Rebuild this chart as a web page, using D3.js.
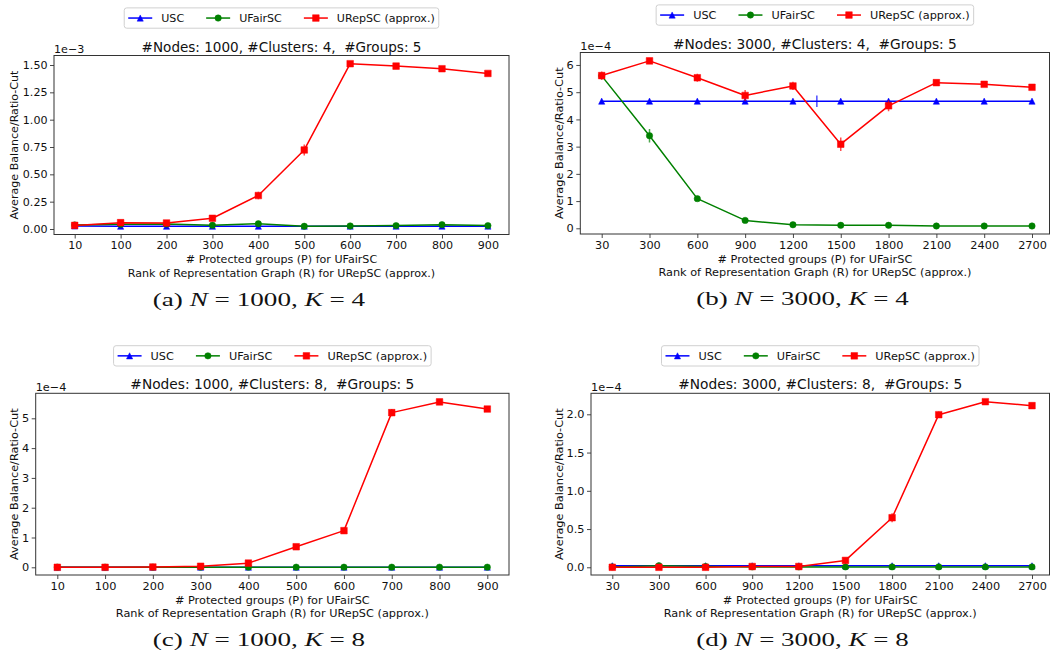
<!DOCTYPE html>
<html><head><meta charset="utf-8">
<script src="https://cdn.jsdelivr.net/npm/d3@7"></script>
<style>
body{margin:0;background:#fff}
svg{display:block}
text{font-family:"DejaVu Sans",sans-serif;fill:#111}
</style>
</head><body>
<svg id="chart" width="1057" height="656"></svg>
<script>
// ---------------- data ----------------
const seriesNames = ["USC", "UFairSC", "URepSC (approx.)"];
const seriesColors = ["#0000ff", "#008000", "#ff0000"];
const seriesMarkers = ["triangle", "circle", "square"];

const xTicks1000 = ["10","100","200","300","400","500","600","700","800","900"];
const xTicks3000 = ["30","300","600","900","1200","1500","1800","2100","2400","2700"];

const yTicksA = [0, 0.25, 0.5, 0.75, 1.0, 1.25, 1.5];
const yTicksB = [0, 1, 2, 3, 4, 5, 6];
const yTicksC = [0, 1, 2, 3, 4, 5];
const yTicksD = [0, 0.5, 1.0, 1.5, 2.0];

// (a) N=1000, K=4  (units 1e-3)
const uscA      = [0.028,0.025,0.025,0.025,0.025,0.026,0.026,0.026,0.026,0.026];
const uscErrA   = [0.003,0.003,0.003,0.003,0.003,0.003,0.003,0.003,0.003,0.003];
const ufairA    = [0.037,0.043,0.046,0.034,0.048,0.025,0.028,0.031,0.040,0.031];
const ufairErrA = [0.004,0.004,0.004,0.004,0.006,0.004,0.004,0.004,0.004,0.004];
const urepA     = [0.033,0.058,0.055,0.098,0.306,0.723,1.512,1.490,1.466,1.423];
const urepErrA  = [0.005,0.010,0.012,0.008,0.035,0.050,0.012,0.010,0.010,0.010];

// (b) N=3000, K=4  (units 1e-4)
const uscB      = [4.67,4.67,4.67,4.67,4.67,4.67,4.67,4.67,4.67,4.67];
const uscErrB   = [0,0,0,0,0,0,0,0,0,0];
const ufairB    = [5.60,3.40,1.09,0.29,0.13,0.11,0.11,0.085,0.085,0.085];
const ufairErrB = [0.10,0.25,0.08,0.03,0.02,0.02,0.02,0.02,0.02,0.02];
const urepB     = [5.61,6.15,5.53,4.88,5.23,3.09,4.50,5.35,5.29,5.18];
const urepErrB  = [0.15,0.05,0.15,0.20,0.15,0.25,0.20,0.05,0.05,0.05];
const uscStrayBarB = [{pos: 4.5, value: 4.67, err: 0.21}];

// (c) N=1000, K=8  (units 1e-4)
const uscC      = [0.003,0.003,0.003,0.003,0.003,0.003,0.003,0.003,0.003,0.003];
const uscErrC   = [0,0,0,0,0,0,0,0,0,0];
const ufairC    = [0.005,0.005,0.005,0.005,0.005,0.005,0.005,0.005,0.005,0.005];
const ufairErrC = [0,0,0,0,0,0,0,0,0,0];
const urepC     = [0.0,0.0,0.01,0.035,0.14,0.69,1.23,5.19,5.55,5.31];
const urepErrC  = [0,0,0,0.02,0.03,0.03,0.10,0.12,0.03,0.03];

// (d) N=3000, K=8  (units 1e-4)
const uscD      = [0.02,0.02,0.02,0.02,0.02,0.02,0.02,0.02,0.02,0.02];
const uscErrD   = [0,0,0,0,0,0,0,0,0,0];
const ufairD    = [0.005,0.02,0.01,0.005,0.005,0.005,0.005,0.005,0.005,0.005];
const ufairErrD = [0,0.005,0,0,0,0,0,0,0,0];
const urepD     = [0.0,0.0,0.0,0.01,0.01,0.09,0.648,1.995,2.165,2.113];
const urepErrD  = [0,0,0,0,0.01,0.01,0.06,0.04,0.015,0.015];

const titles = [
  "#Nodes: 1000, #Clusters: 4,  #Groups: 5",
  "#Nodes: 3000, #Clusters: 4,  #Groups: 5",
  "#Nodes: 1000, #Clusters: 8,  #Groups: 5",
  "#Nodes: 3000, #Clusters: 8,  #Groups: 5"
];
const captionLetters = ["a", "b", "c", "d"];
const captionN = ["1000", "3000", "1000", "3000"];
const captionK = ["4", "4", "8", "8"];
const offsetTexts = ["1e\u22123", "1e\u22124", "1e\u22124", "1e\u22124"];
const xLabel1 = "# Protected groups (P) for UFairSC";
const xLabel2 = "Rank of Representation Graph (R) for URepSC (approx.)";
const yLabel = "Average Balance/Ratio-Cut";

// ---------------- layout ----------------
const panels = [
  { box:[54,55.5,509,234.5], xr:[74.7,487.9], yd:[-0.0503,1.587], xt:xTicks1000, yt:yTicksA, yfmt:d3.format(".2f"),
    series:[[uscA,uscErrA],[ufairA,ufairErrA],[urepA,urepErrA]], stray:[], capC:259, ylx:14, fs:11.1, tfs:13.55 },
  { box:[580.3,52.5,1049.5,234], xr:[601.7,1032], yd:[-0.209,6.458], xt:xTicks3000, yt:yTicksB, yfmt:d3.format("d"),
    series:[[uscB,uscErrB],[ufairB,ufairErrB],[urepB,urepErrB]], stray:uscStrayBarB, capC:802.5, ylx:558.7, fs:11.3, tfs:13.75 },
  { box:[35.7,393.3,509,575], xr:[57.3,487.3], yd:[-0.258,5.839], xt:xTicks1000, yt:yTicksC, yfmt:d3.format("d"),
    series:[[uscC,uscErrC],[ufairC,ufairErrC],[urepC,urepErrC]], stray:[], capC:259, ylx:14, fs:11.3, tfs:13.75 },
  { box:[591,393.3,1049.5,575], xr:[612.3,1032], yd:[-0.1007,2.2745], xt:xTicks3000, yt:yTicksD, yfmt:d3.format(".1f"),
    series:[[uscD,uscErrD],[ufairD,ufairErrD],[urepD,urepErrD]], stray:[], capC:802.5, ylx:558.7, fs:11.3, tfs:13.75 }
];

const svg = d3.select("#chart");

function markerPath(type) {
  if (type === "triangle") { const h = 3.1; return `M0,${-h}L${h},${h}L${-h},${h}Z`; }
  if (type === "square") { const s = 3.3; return `M${-s},${-s}H${s}V${s}H${-s}Z`; }
  return d3.symbol(d3.symbolCircle, Math.PI * 3.2 * 3.2)();
}

panels.forEach((p, pi) => {
  const [x0, y0, x1, y1] = p.box;
  const g = svg.append("g");
  const x = d3.scaleLinear().domain([0, 9]).range(p.xr);
  const y = d3.scaleLinear().domain(p.yd).range([y1, y0]);

  const clipId = "clip" + pi;
  svg.append("clipPath").attr("id", clipId).append("rect")
    .attr("x", x0).attr("y", y0).attr("width", x1 - x0).attr("height", y1 - y0);

  const xAxis = d3.axisBottom(x).tickValues(d3.range(p.xt.length)).tickFormat(i => p.xt[i])
    .tickSize(4).tickPadding(2.5);
  const gx = g.append("g").attr("transform", `translate(0,${y1})`).call(xAxis);
  const yAxis = d3.axisLeft(y).tickValues(p.yt).tickFormat(p.yfmt).tickSize(4).tickPadding(2.5);
  const gy = g.append("g").attr("transform", `translate(${x0},0)`).call(yAxis);
  [gx, gy].forEach(a => {
    a.select(".domain").remove();
    a.selectAll(".tick line").attr("stroke", "#333").attr("stroke-width", 0.9);
    a.selectAll(".tick text").attr("font-family", "DejaVu Sans").attr("font-size", p.fs).attr("fill", "#111");
  });

  const plot = g.append("g").attr("clip-path", `url(#${clipId})`);
  p.series.forEach(([vals, errs], si) => {
    const color = seriesColors[si];
    const sg = plot.append("g");
    sg.selectAll("line.err").data(vals.map((v, i) => ({ i, v, e: errs[i] })).filter(d => d.e > 0))
      .join("line").attr("class", "err")
      .attr("x1", d => x(d.i)).attr("x2", d => x(d.i))
      .attr("y1", d => y(d.v - d.e)).attr("y2", d => y(d.v + d.e))
      .attr("stroke", color).attr("stroke-width", 1.5).attr("stroke-opacity", 0.7);
    const line = d3.line().x((d, i) => x(i)).y(d => y(d));
    sg.append("path").datum(vals).attr("d", line)
      .attr("fill", "none").attr("stroke", color).attr("stroke-width", 1.5).attr("stroke-linejoin", "round");
    sg.selectAll("path.mk").data(vals).join("path").attr("class", "mk")
      .attr("d", markerPath(seriesMarkers[si]))
      .attr("transform", (d, i) => `translate(${x(i)},${y(d)})`)
      .attr("fill", color).attr("stroke", color).attr("stroke-width", 0.5);
  });
  plot.selectAll("line.stray").data(p.stray).join("line").attr("class", "stray")
    .attr("x1", d => x(d.pos)).attr("x2", d => x(d.pos))
    .attr("y1", d => y(d.value - d.err)).attr("y2", d => y(d.value + d.err))
    .attr("stroke", seriesColors[0]).attr("stroke-width", 1.5).attr("stroke-opacity", 0.7);

  g.append("rect").attr("x", x0).attr("y", y0).attr("width", x1 - x0).attr("height", y1 - y0)
    .attr("fill", "none").attr("stroke", "#333").attr("stroke-width", 1);

  const cx = (x0 + x1) / 2;
  g.append("text").attr("x", x0).attr("y", y0 - 2.5).attr("font-size", p.fs).text(offsetTexts[pi]);
  g.append("text").attr("x", cx).attr("y", y0 - 4).attr("text-anchor", "middle")
    .attr("font-size", p.tfs).attr("xml:space", "preserve").style("white-space", "pre").text(titles[pi]);
  g.append("text").attr("x", cx).attr("y", y1 + 28.5).attr("text-anchor", "middle")
    .attr("font-size", p.fs).text(xLabel1);
  g.append("text").attr("x", cx).attr("y", y1 + 42).attr("text-anchor", "middle")
    .attr("font-size", p.fs).text(xLabel2);
  g.append("text").attr("transform", `translate(${p.ylx},${(y0 + y1) / 2}) rotate(-90)`)
    .attr("text-anchor", "middle").attr("dy", "0.35em").attr("font-size", p.fs).text(yLabel);

  // legend
  const lg = g.append("g");
  const ly = y0 - 47.6, lh = 20.3, lcy = ly + lh / 2;
  const bg = lg.append("rect");
  let cursor = 0;
  const items = [];
  seriesNames.forEach((name, si) => {
    const it = lg.append("g");
    it.append("line").attr("x1", 0).attr("x2", 24).attr("y1", 0).attr("y2", 0)
      .attr("stroke", seriesColors[si]).attr("stroke-width", 1.5);
    it.append("path").attr("d", markerPath(seriesMarkers[si])).attr("transform", "translate(12,0)")
      .attr("fill", seriesColors[si]).attr("stroke", seriesColors[si]).attr("stroke-width", 0.5);
    const t = it.append("text").attr("x", 33).attr("dy", "0.36em").attr("font-size", p.fs).text(name);
    const w = 33 + t.node().getComputedTextLength();
    items.push({ it, offset: cursor });
    cursor += w + 22;
  });
  const totalW = cursor - 22 + 8;
  const lx = cx - totalW / 2;
  items.forEach(({ it, offset }) => it.attr("transform", `translate(${lx + 4 + offset},${lcy})`));
  bg.attr("x", lx).attr("y", ly).attr("width", totalW).attr("height", lh).attr("rx", 2.5)
    .attr("fill", "#fff").attr("stroke", "#d0d0d0").attr("stroke-width", 1);

  // caption
  const cap = svg.append("g");
  const ct = cap.append("text").attr("font-size", 18.5)
    .style("font-family", "'Liberation Serif', serif").attr("xml:space", "preserve").style("white-space", "pre");
  ct.append("tspan").text(`(${captionLetters[pi]}) `);
  ct.append("tspan").attr("font-style", "italic").text("N");
  ct.append("tspan").text(` = ${captionN[pi]}, `);
  ct.append("tspan").attr("font-style", "italic").text("K");
  ct.append("tspan").text(` = ${captionK[pi]}`);
  const bw = ct.node().getBBox().width;
  const sx = 212.6 / bw;
  cap.attr("transform", `translate(${p.capC - 106.3},${y1 + 71.3}) scale(${sx},1)`);
});
</script>
</body></html>
